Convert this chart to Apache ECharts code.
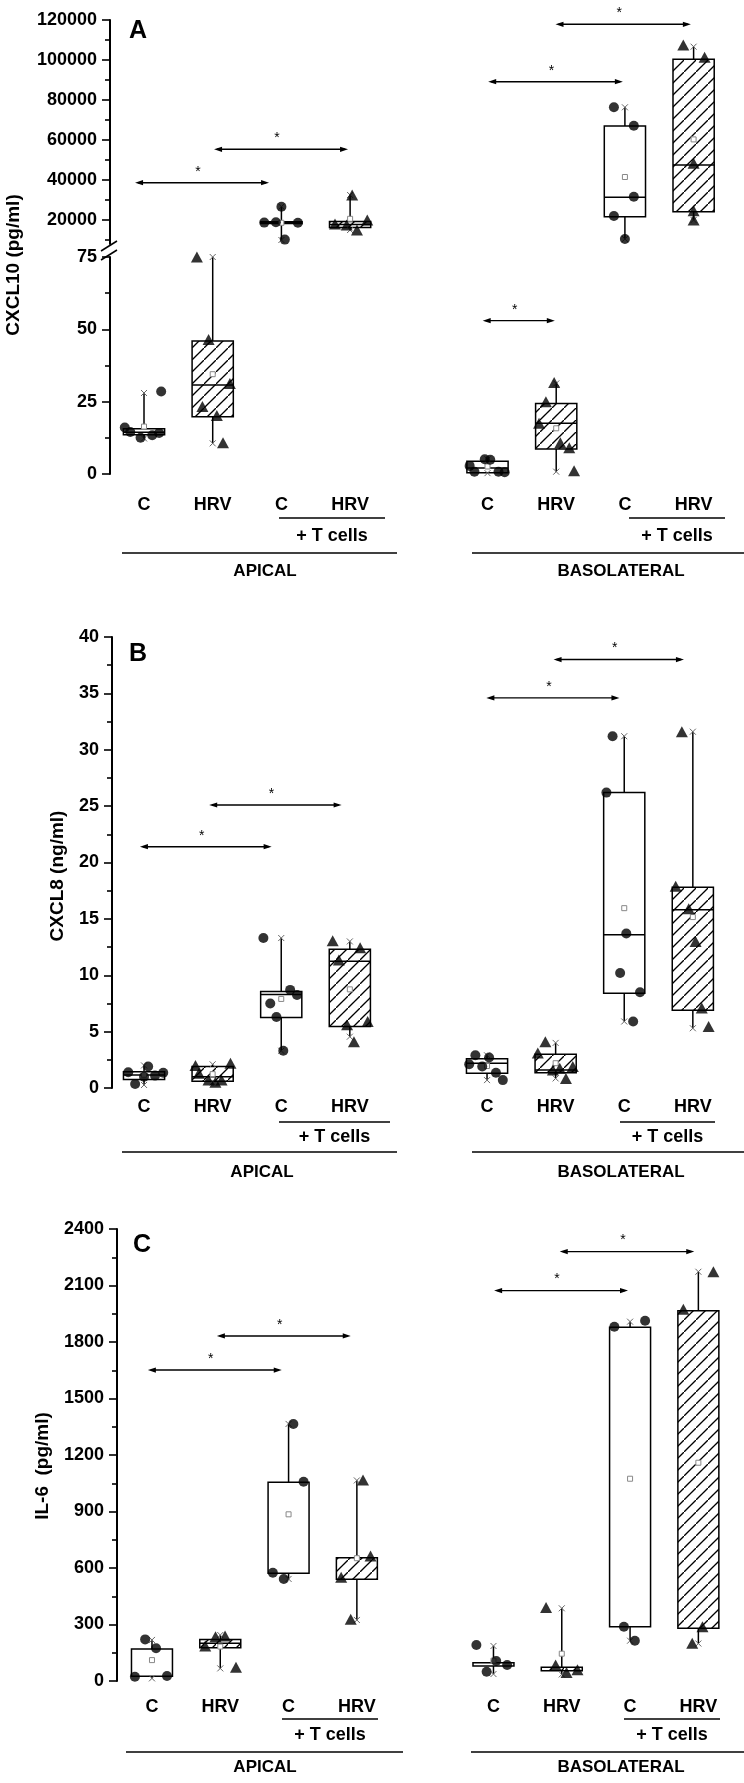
<!DOCTYPE html>
<html><head><meta charset="utf-8">
<script src="https://cdn.jsdelivr.net/npm/echarts@6/dist/echarts.min.js"></script>
<style>html,body{margin:0;padding:0;background:#fff}#c{width:744px;height:1783px}</style>
</head><body><div id="c"></div>
<script>
// ================= DATA =================
const groupLabels = ['C','HRV','C','HRV','C','HRV','C','HRV'];
const groupPos    = [1,2,3,4,6,7,8,9];
const hatched     = [false,true,false,true,false,true,false,true];
const withTcells  = [false,false,true,true,false,false,true,true];

// Panel A : CXCL10 (pg/ml) — broken axis
const A_upperTicks = [20000,40000,60000,80000,100000,120000];
const A_upperMinor = [10000,30000,50000,70000,90000,110000];
const A_lowerTicks = [0,25,50,75];
const A_lowerMinor = [12.5,37.5,62.5];
// [min, q1, median, q3, max, mean]
const A_box = [
  [12.3,13.6,14.4,15.6,28,16.4],
  [10.6,19.8,30.8,46,75,34.5],
  [10000,18300,18700,19100,26650,18600],
  [15000,16300,17800,19300,32500,20600],
  [0.3,0.4,2.1,4.4,5.1,2.6],
  [0.8,8.6,17.5,24.4,31.3,15.8],
  [10500,21650,31350,67000,76350,41500],
  [20000,24150,47500,100350,106650,60300]
];
const A_points = [
  [28.5,16.1,14.5,12.5,13.4,14.2],
  [75,46.5,31.3,23.3,20.2,10.8],
  [26650,18700,18900,18600,10200],
  [32500,18000,17500,15000,20000],
  [5.1,4.9,2.8,0.8,0.8,0.6],
  [31.6,25,17.5,10.8,9.1,1.1],
  [76350,67150,31650,22000,10500],
  [107500,101350,48350,24650,20000]
];
const A_jitter = [
  [0.25,-0.28,-0.2,-0.05,0.12,0.22],
  [-0.23,-0.06,0.25,-0.15,0.06,0.15],
  [0,-0.25,-0.08,0.24,0.05],
  [0.03,-0.22,-0.05,0.1,0.25],
  [-0.04,0.04,-0.26,-0.19,0.16,0.25],
  [-0.03,-0.15,-0.25,0.06,0.19,0.26],
  [-0.16,0.13,0.13,-0.16,0],
  [-0.15,0.16,0,0,0]
];
// significance arrows [xFrom, xTo, y, upper(1)/lower(0)]
const A_arrows = [
  [0.87,2.82,38650,1],[2.02,3.97,55350,1],
  [6.01,7.97,89150,1],[6.99,8.96,117850,1],
  [5.93,6.98,53,0]
];

// Panel B : CXCL8 (ng/ml)
const B_ticks = [0,5,10,15,20,25,30,35,40];
const B_minor = [2.5,7.5,12.5,17.5,22.5,27.5,32.5,37.5];
const B_box = [
  [0.27,0.75,1.15,1.45,2.0,1.17],
  [0.5,0.6,1.0,1.9,2.1,1.23],
  [3.3,6.25,8.3,8.55,13.3,7.9],
  [4.55,5.45,11.25,12.3,13.0,8.75],
  [0.7,1.3,2.2,2.6,2.9,1.95],
  [0.85,1.36,1.6,3.0,4.0,2.2],
  [5.9,8.4,13.6,26.2,31.2,15.95],
  [5.3,6.9,15.8,17.8,31.6,15.16]
];
const B_points = [
  [1.9,1.4,1.35,1.1,1.0,0.35],
  [2.0,2.2,1.3,0.7,0.5,0.7],
  [13.3,8.7,8.25,7.5,6.3,3.3],
  [13.05,12.45,11.35,5.6,5.9,4.1],
  [2.9,2.7,2.1,1.9,1.35,0.7],
  [4.1,3.1,1.6,1.75,1.9,0.85],
  [31.2,26.2,13.7,10.2,8.5,5.9],
  [31.6,17.9,15.9,13.0,7.1,5.45]
];
const B_jitter = [
  [0.06,-0.23,0.28,0.16,0,-0.13],
  [-0.25,0.26,-0.2,-0.06,0.04,0.13],
  [-0.26,0.13,0.23,-0.16,-0.07,0.03],
  [-0.25,0.15,-0.16,-0.04,0.26,0.06],
  [-0.17,0.03,-0.26,-0.07,0.13,0.23],
  [-0.15,-0.26,-0.04,0.06,0.25,0.15],
  [-0.17,-0.26,0.03,-0.06,0.23,0.13],
  [-0.16,-0.25,-0.06,0.04,0.13,0.23]
];
const B_arrows = [[0.94,2.86,21.4],[1.95,3.88,25.1],[5.99,7.93,34.6],[6.97,8.87,38.0]];

// Panel C : IL-6 (pg/ml)
const C_ticks = [0,300,600,900,1200,1500,1800,2100,2400];
const C_minor = [150,450,750,1050,1350,1650,1950,2250];
const C_box = [
  [14,25,null,170,218,111],
  [67,177,200,221,244,183],
  [542,572,null,1055,1365,885],
  [324,540,null,655,1065,652],
  [37,80,null,97,186,108],
  [35,55,null,73,386,145],
  [214,288,null,1878,1908,1074],
  [199,280,null,1966,2173,1159]
];
const C_points = [
  [221,174,23,27],
  [235,239,186,73],
  [1365,1058,575,542],
  [1067,664,551,328],
  [191,106,85,49],
  [390,85,45,60],
  [1913,1881,288,214],
  [2173,1974,288,200]
];
const C_jitter = [
  [-0.1,0.06,-0.25,0.22],
  [-0.07,0.07,-0.22,0.23],
  [0.07,0.22,-0.23,-0.07],
  [0.09,0.2,-0.23,-0.09],
  [-0.25,0.04,0.2,-0.1],
  [-0.23,-0.09,0.07,0.23],
  [0.22,-0.23,-0.09,0.07],
  [0.22,-0.22,0.06,-0.09]
];
const C_arrows = [[0.94,2.90,1651],[1.95,3.91,1832],[6.01,7.97,2073],[6.97,8.94,2280]];

// ================= RENDER =================
const FONT = '"Liberation Sans", Arial, sans-serif';
const chart = echarts.init(document.getElementById('c'), null, {renderer:'canvas'});

// hatch pattern
const pc = document.createElement('canvas'); pc.width = 12; pc.height = 12;
const g2 = pc.getContext('2d');
g2.fillStyle = '#fff'; g2.fillRect(0,0,12,12);
g2.strokeStyle = '#000'; g2.lineWidth = 1.3;
g2.beginPath(); g2.moveTo(-2,14); g2.lineTo(14,-2); g2.stroke();
const hatchFill = {image: pc, repeat: 'repeat'};

// grid layouts (pixels)
const grids = [
  {left:110, top:20,   height:224, xMin:0.505, spacing:68.7}, // A upper
  {left:110, top:257,  height:217, xMin:0.505, spacing:68.7}, // A lower
  {left:112, top:637,  height:451, xMin:0.533, spacing:68.6}, // B
  {left:117, top:1229, height:452, xMin:0.488, spacing:68.3}  // C
];
const X_MAX = 9.5;
const labelMargin = [0, 22, 10, 17];

const gridOpt = grids.map(g => ({left:g.left, top:g.top, height:g.height, width:(X_MAX - g.xMin)*g.spacing}));
const xAxes = grids.map((g,i) => ({
  type:'value', gridIndex:i, min:g.xMin, max:X_MAX,
  axisLine:{show:false}, axisTick:{show:false}, splitLine:{show:false},
  axisLabel:{show: i>0, customValues: groupPos, margin: labelMargin[i],
    formatter: v => groupLabels[groupPos.indexOf(v)],
    color:'#000', fontFamily:FONT, fontWeight:'bold', fontSize:18}
}));
function yMajor(grid, min, max, ticks) {
  return {type:'value', gridIndex:grid, min, max, position:'left',
    axisLine:{show:true, onZero:false, lineStyle:{color:'#000', width:2}},
    axisTick:{show:true, length:8, customValues:ticks, lineStyle:{color:'#000', width:1.6}},
    axisLabel:{show:true, customValues:ticks, margin:13, color:'#000', fontFamily:FONT, fontWeight:'bold', fontSize:18,
      formatter: v => String(v)},
    splitLine:{show:false}};
}
function yMinor(grid, min, max, ticks) {
  return {type:'value', gridIndex:grid, min, max, position:'left',
    axisLine:{show:false, onZero:false},
    axisTick:{show:true, length:5, customValues:ticks, lineStyle:{color:'#000', width:1.6}},
    axisLabel:{show:false}, splitLine:{show:false}};
}
const yAxes = [
  yMajor(0, 8000, 120000, A_upperTicks),
  yMajor(1, 0, 75, A_lowerTicks),
  yMajor(2, 0, 40, B_ticks),
  yMajor(3, 0, 2400, C_ticks),
  yMinor(0, 8000, 120000, A_upperMinor),
  yMinor(1, 0, 75, A_lowerMinor),
  yMinor(2, 0, 40, B_minor),
  yMinor(3, 0, 2400, C_minor)
];

const HW = 0.3;
function boxSeries(gi, boxes, idxs) {
  return {
    type:'custom', xAxisIndex:gi, yAxisIndex:gi, z:2, clip:false,
    data: idxs.map(i => [groupPos[i], boxes[i][0], boxes[i][4]]),
    encode:{x:0, y:[1,2]},
    renderItem: (params, api) => {
      const i = idxs[params.dataIndex];
      const b = boxes[i], x = groupPos[i];
      const c = (xx,yy) => api.coord([xx,yy]);
      const pTop = c(x,b[3]), pBot = c(x,b[1]), pMax = c(x,b[4]), pMin = c(x,b[0]);
      const L = c(x-HW,b[3])[0], R = c(x+HW,b[3])[0];
      const ch = [];
      ch.push({type:'line', shape:{x1:pMax[0],y1:pMax[1],x2:pTop[0],y2:pTop[1]}, style:{stroke:'#000',lineWidth:1.5}});
      ch.push({type:'line', shape:{x1:pMin[0],y1:pMin[1],x2:pBot[0],y2:pBot[1]}, style:{stroke:'#000',lineWidth:1.5}});
      ch.push({type:'rect', shape:{x:L, y:pTop[1], width:R-L, height:Math.max(pBot[1]-pTop[1],1.5)},
        style:{fill: hatched[i] ? hatchFill : '#fff', stroke:'#000', lineWidth:1.5}});
      if (b[2] != null) {
        const pm = c(x,b[2]);
        ch.push({type:'line', shape:{x1:L,y1:pm[1],x2:R,y2:pm[1]}, style:{stroke:'#000',lineWidth:1.5}});
      }
      [pMax,pMin].forEach(p => {
        ch.push({type:'line', shape:{x1:p[0]-3,y1:p[1]-3,x2:p[0]+3,y2:p[1]+3}, style:{stroke:'#666',lineWidth:1}});
        ch.push({type:'line', shape:{x1:p[0]-3,y1:p[1]+3,x2:p[0]+3,y2:p[1]-3}, style:{stroke:'#666',lineWidth:1}});
      });
      const pMean = c(x,b[5]);
      ch.push({type:'rect', shape:{x:pMean[0]-2.5,y:pMean[1]-2.5,width:5,height:5}, style:{fill:'#fff',stroke:'#888',lineWidth:1}});
      return {type:'group', children:ch};
    }
  };
}
function pointSeries(gi, pts, jit, idxs, tri) {
  const data = [];
  idxs.forEach(i => { if (hatched[i] === tri) pts[i].forEach((v,k) => data.push([groupPos[i]+jit[i][k], v])); });
  return {type:'scatter', xAxisIndex:gi, yAxisIndex:gi, z:5, clip:false,
    symbol: tri ? 'triangle' : 'circle', symbolSize: tri ? [12,11] : 10,
    itemStyle:{color:'#000'}, data, silent:true};
}
function arrowSeries(gi, arrows) {
  return {type:'custom', xAxisIndex:gi, yAxisIndex:gi, z:4, clip:false,
    data: arrows.map(a => [a[0], a[1], a[2]]), encode:{x:[0,1], y:2},
    renderItem: (params, api) => {
      const a = arrows[params.dataIndex];
      const p1 = api.coord([a[0],a[2]]), p2 = api.coord([a[1],a[2]]);
      const y = p1[1];
      return {type:'group', children:[
        {type:'line', shape:{x1:p1[0]+3,y1:y,x2:p2[0]-3,y2:y}, style:{stroke:'#000',lineWidth:1.4}},
        {type:'polygon', shape:{points:[[p1[0],y],[p1[0]+8,y-2.6],[p1[0]+8,y+2.6]]}, style:{fill:'#000'}},
        {type:'polygon', shape:{points:[[p2[0],y],[p2[0]-8,y-2.6],[p2[0]-8,y+2.6]]}, style:{fill:'#000'}},
        {type:'text', style:{text:'*', x:(p1[0]+p2[0])/2-4, y:y-11, fill:'#000', font:'14px '+FONT, align:'center', verticalAlign:'middle'}}
      ]};
    }};
}

const series = [];
const upperIdx = [2,3,6,7], lowerIdx = [0,1,4,5], allIdx = [0,1,2,3,4,5,6,7];
series.push(boxSeries(0, A_box, upperIdx), boxSeries(1, A_box, lowerIdx));
series.push(pointSeries(0, A_points, A_jitter, upperIdx, false), pointSeries(0, A_points, A_jitter, upperIdx, true));
series.push(pointSeries(1, A_points, A_jitter, lowerIdx, false), pointSeries(1, A_points, A_jitter, lowerIdx, true));
series.push(arrowSeries(0, A_arrows.filter(a => a[3]===1)), arrowSeries(1, A_arrows.filter(a => a[3]===0)));
series.push(boxSeries(2, B_box, allIdx), pointSeries(2, B_points, B_jitter, allIdx, false), pointSeries(2, B_points, B_jitter, allIdx, true), arrowSeries(2, B_arrows));
series.push(boxSeries(3, C_box, allIdx), pointSeries(3, C_points, C_jitter, allIdx, false), pointSeries(3, C_points, C_jitter, allIdx, true), arrowSeries(3, C_arrows));

// static annotations
const bold = s => 'bold ' + s + 'px ' + FONT;
function txt(t, x, y, size, rot) {
  return {type:'text', x, y, rotation: rot || 0, z:10,
    style:{text:t, font:bold(size), fill:'#000', align:'center', verticalAlign:'middle'}};
}
function ln(x1, y1, x2, y2, w) {
  return {type:'line', z:10, shape:{x1,y1,x2,y2}, style:{stroke:'#000', lineWidth:w || 1.5}};
}
function groupBlock(labY, tLineY, tTextY, gLineY, gTextY, apT, baT, apL, baL, apTxt, baTxt) {
  return [
    ln(apT[0], tLineY, apT[1], tLineY), ln(baT[0], tLineY, baT[1], tLineY),
    txt('+ T cells', (apT[0]+apT[1])/2, tTextY, 18), txt('+ T cells', (baT[0]+baT[1])/2, tTextY, 18),
    ln(apL[0], gLineY, apL[1], gLineY), ln(baL[0], gLineY, baL[1], gLineY),
    txt('APICAL', apTxt, gTextY, 17), txt('BASOLATERAL', baTxt, gTextY, 17)
  ];
}
const graphic = [
  txt('A', 138, 31, 25), txt('B', 138, 654, 25), txt('C', 142, 1245, 25),
  txt('CXCL10 (pg/ml)', 14, 265, 19, Math.PI/2),
  txt('CXCL8 (ng/ml)', 58, 876, 19, Math.PI/2),
  txt('IL-6  (pg/ml)', 43, 1466, 19, Math.PI/2),
  // axis break marks
  {type:'rect', z:9, shape:{x:104, y:245, width:12, height:10}, style:{fill:'#fff'}},
  ln(101, 251, 117, 241, 1.5), ln(101, 260, 117, 250, 1.5),
  ...groupBlock(505, 518, 536, 553, 571, [279,385], [629,725], [122,397], [472,744], 265, 621),
  ...groupBlock(1107, 1122, 1137, 1152, 1172, [279,390], [620,715], [122,397], [472,744], 262, 621),
  ...groupBlock(1707, 1719, 1735, 1752, 1767, [282,378], [624,720], [126,403], [471,744], 265, 621)
];

chart.setOption({
  animation:false, backgroundColor:'#fff',
  grid: gridOpt, xAxis: xAxes, yAxis: yAxes, series, graphic
});
</script></body></html>
